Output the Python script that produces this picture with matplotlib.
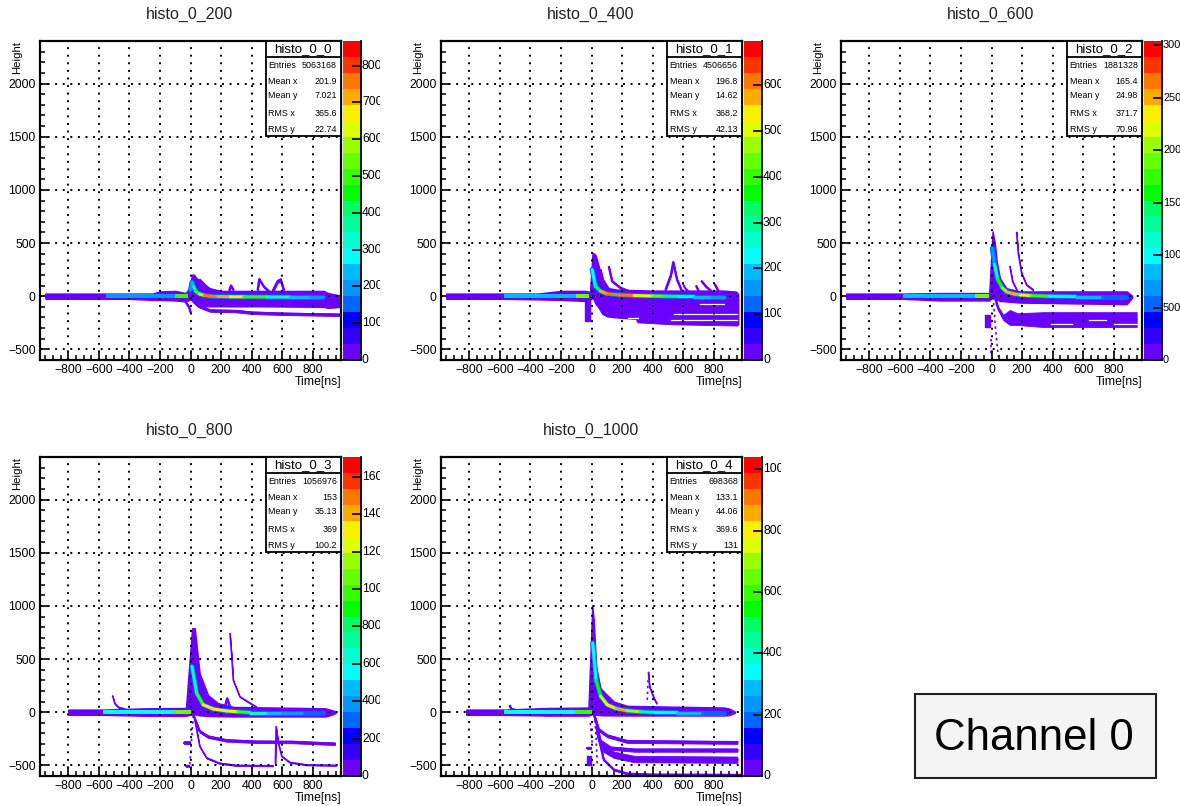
import numpy as np
import matplotlib
matplotlib.use("Agg")
import matplotlib.pyplot as plt
from matplotlib.collections import LineCollection
from matplotlib.colors import BoundaryNorm, ListedColormap
from matplotlib.patches import Rectangle
from matplotlib.ticker import MultipleLocator
from matplotlib.transforms import Bbox

plt.rcParams["font.family"] = ["Liberation Sans", "DejaVu Sans"]

W, H = 1180, 806
PURPLE = "#6a00ff"
PALETTE = ["#6a00ff", "#3300ff", "#0000ff", "#0066ff", "#0099ff", "#00bbff", "#00ffff",
           "#00ffcc", "#00ff99", "#00ff66", "#00ff00", "#33ff00", "#66ff00", "#99ff00",
           "#ddff00", "#ffee00", "#ffaa00", "#ff7700", "#ff3300", "#ff0000"]

TITLES = ["histo_0_200", "histo_0_400", "histo_0_600", "histo_0_800", "histo_0_1000"]
STAT_NAMES = ["histo_0_0", "histo_0_1", "histo_0_2", "histo_0_3", "histo_0_4"]
STAT_LABELS = ["Entries", "Mean x", "Mean y", "RMS x", "RMS y"]
STAT_VALUES = [["5063168", "201.9", "7.021", "365.6", "22.74"],
               ["4506656", "196.8", "14.62", "368.2", "42.13"],
               ["1881328", "165.4", "24.98", "371.7", "70.96"],
               ["1056976", "153", "35.13", "369", "100.2"],
               ["698368", "133.1", "44.06", "369.6", "131"]]
Z_MAX = [867, 697, 30400, 17060, 1040]
Z_TICKS = [[0, 100, 200, 300, 400, 500, 600, 700, 800],
           [0, 100, 200, 300, 400, 500, 600],
           [0, 5000, 10000, 15000, 20000, 25000, 30000],
           [0, 2000, 4000, 6000, 8000, 10000, 12000, 14000, 16000],
           [0, 200, 400, 600, 800, 1000]]
Z_LABELS = [["0", "100", "200", "300", "400", "500", "600", "700", "800"],
            ["0", "100", "200", "300", "400", "500", "600"],
            ["0", "500", "100", "150", "200", "250", "300"],
            ["0", "200", "400", "600", "800", "100", "120", "140", "160"],
            ["0", "200", "400", "600", "800", "100"]]

# Baseline before the pulse: segment edges and colour level
P1_BASE_T = [-950, -550, -100, -18]
P1_BASE_Z = [20, 190, 520]
P2_BASE_T = [-950, -570, -100, -15]
P2_BASE_Z = [20, 180, 430]
P3_BASE_T = [-950, -580, -110, -15]
P3_BASE_Z = [800, 8200, 18500]
P4_BASE_T = [-800, -570, -110, 0]
P4_BASE_Z = [600, 5400, 10800]
P5_BASE_T = [-820, -570, -110, 0]
P5_BASE_Z = [30, 360, 620]

# Purple envelope around the pulse
P1_ENV_T = [-950, -550, -400, -250, -200, -100, -30, 0, 8, 20, 40, 60, 100, 140, 200, 450, 870, 900, 985]
P1_ENV_UP = [25, 25, 25, 25, 45, 50, 30, 100, 200, 205, 170, 135, 90, 70, 50, 50, 50, 30, 5]
P1_ENV_LO = [-25, -25, -25, -35, -35, -40, -50, -30, -40, -60, -85, -90, -95, -95, -95, -95, -100, -110, -100]
P2_ENV_T = [-950, -570, -350, -200, -40, -10, 7, 26, 48, 70, 103, 168, 400, 870, 900, 945, 960]
P2_ENV_UP = [25, 25, 25, 50, 50, 40, 410, 390, 280, 125, 78, 62, 53, 53, 48, 44, 20]
P2_ENV_LO = [-25, -25, -30, -35, -45, -35, -10, -70, -110, -165, -190, -200, -225, -250, -255, -265, -265]
P3_ENV_T = [-950, -580, -340, -15, 7, 22, 33, 55, 98, 185, 885, 920]
P3_ENV_UP = [25, 25, 30, 30, 610, 500, 340, 170, 75, 45, 45, 5]
P3_ENV_LO = [-25, -25, -40, -40, -10, -20, -30, -45, -50, -60, -75, -15]
P4_ENV_T = [-800, -570, -285, -30, 10, 28, 60, 115, 180, 280, 880, 900, 950]
P4_ENV_UP = [25, 25, 37, 40, 790, 790, 365, 160, 85, 50, 37, 30, 8]
P4_ENV_LO = [-25, -25, -34, -34, -20, -20, -30, -35, -38, -40, -40, -35, -8]
P5_ENV_T = [-820, -570, -285, -20, 5, 15, 30, 59, 103, 146, 234, 868, 900, 938]
P5_ENV_UP = [25, 25, 40, 44, 1005, 865, 430, 225, 160, 100, 60, 44, 35, 6]
P5_ENV_LO = [-25, -25, -32, -32, -15, -20, -25, -28, -30, -30, -31, -31, -28, -6]

# Coloured ridge: t, height and colour level
P1_RIDGE_T = [0, 10, 20, 35, 60, 90, 130, 180, 260, 350, 500, 650, 780, 870]
P1_RIDGE_Y = [60, 130, 90, 45, 20, 8, 0, -3, -5, -6, -7, -8, -8, -8]
P1_RIDGE_Z = [150, 180, 250, 350, 500, 650, 740, 760, 700, 620, 480, 330, 260, 180]
P2_RIDGE_T = [4, 26, 59, 103, 180, 278, 400, 474, 570, 670, 780, 870]
P2_RIDGE_Y = [250, 94, 47, 22, 12, 6, 2, 0, -2, -3, -3, -3]
P2_RIDGE_Z = [130, 210, 340, 560, 600, 610, 520, 430, 320, 250, 200, 150]
P3_RIDGE_T = [5, 20, 40, 70, 100, 150, 190, 260, 380, 550, 720, 880]
P3_RIDGE_Y = [450, 300, 160, 80, 40, 20, 12, 5, 0, -3, -3, -3]
P3_RIDGE_Z = [4500, 6500, 11000, 16000, 20000, 24500, 25000, 22000, 17000, 10000, 8000, 5500]
P4_RIDGE_T = [10, 40, 83, 150, 235, 310, 390, 500, 600, 740, 870]
P4_RIDGE_Y = [430, 180, 70, 30, 12, 4, -3, -3, -3, -3, -3]
P4_RIDGE_Z = [3500, 6000, 10000, 13000, 13500, 12000, 9500, 6500, 5000, 4200, 3200]
P5_RIDGE_T = [8, 30, 60, 103, 160, 234, 320, 420, 560, 720, 870]
P5_RIDGE_Y = [650, 300, 150, 70, 35, 14, 4, -2, -3, -3, -3]
P5_RIDGE_Z = [180, 330, 560, 750, 800, 860, 700, 450, 330, 280, 200]

# Solid purple strips: (t, centre, half-thickness)
P1_STRIPS = [([15, 50, 100, 130, 300, 400, 600, 985], [-30, -90, -120, -135, -140, -155, -165, -175], 12),
             ([-30, -10, 0], [-60, -100, -150], 10),
             ([440, 450, 480, 510], [60, 160, 90, 50], 8),
             ([540, 570, 590, 610], [55, 140, 155, 60], 16),
             ([255, 265, 280], [60, 100, 60], 8),
             ([40, 60, 90, 125], [140, 150, 105, 60], 16)]
P2_STRIPS = [([59, 75, 110], [244, 150, 70], 12),
             ([114, 135, 190, 234], [275, 140, 78, 53], 8),
             ([485, 520, 535, 560, 588], [62, 200, 320, 155, 60], 10),
             ([595, 610, 630], [125, 80, 50], 6),
             ([686, 700], [94, 50], 8),
             ([721, 750, 780], [140, 90, 53], 8),
             ([808, 830], [110, 50], 7),
             ([300, 520, 955], [-232, -250, -262], 14),
             ([-25, -25], [-30, -235], 18)]
P3_STRIPS = [([22, 44, 77, 120, 170, 340, 950], [-10, -115, -200, -200, -215, -220, -220], [10, 15, 25, 70, 55, 70, 70]),
             ([-25, -25], [-175, -290], 15),
             ([120, 138, 165], [280, 138, 60], 6),
             ([164, 175, 197, 230, 273], [600, 405, 215, 105, 60], 6)]
P4_STRIPS = [([18, 60, 115, 235, 430, 670, 945], [-25, -180, -230, -265, -278, -280, -297], 12),
             ([28, 60, 105, 190, 300, 540], [-70, -320, -430, -480, -500, -503], 6),
             ([555, 560, 575, 597, 650, 760, 953], [-480, -135, -290, -415, -472, -495, -500], 5),
             ([258, 265, 280, 323, 390, 430], [740, 615, 300, 145, 85, 50], 4),
             ([225, 240, 258], [50, 130, 50], 8),
             ([-40, -5], [-285, -285], 12),
             ([-28, -12], [-505, -505], 8),
             ([-510, -495, -470, -430], [153, 80, 45, 30], 6)]
P5_STRIPS = [([15, 48, 103, 234, 955], [-20, -165, -222, -275, -284], 14),
             ([28, 59, 125, 278, 955], [-70, -275, -337, -356, -356], 16),
             ([37, 70, 146, 278, 955], [-197, -337, -400, -440, -447], 30),
             ([33, 80, 146, 234, 387, 985], [-150, -447, -540, -578, -587, -590], 7),
             ([372, 380, 409, 426], [375, 240, 131, 84], 6),
             ([-30, -5], [-340, -340], 10),
             ([-18, -18], [-415, -500], 14),
             ([-535, -525, -495], [60, 30, 20], 8)]

# Thin dashed traces: (t, height)
P1_TRACES = []
P2_TRACES = []
P3_TRACES = [([11, 25, 44], [-10, -280, -570]), ([-5, -5], [-400, -550])]
P4_TRACES = [([18, 5, -5], [-30, -300, -510])]
P5_TRACES = [([20, 30, 38], [-20, -250, -500]), ([365, 370], [115, 300]), ([-8, 5], [-100, -300])]

# White gaps inside the lower bands: (t, height)
P1_GAPS = []
P2_GAPS = [([710, 870], [-72, -72]), ([540, 955], [-165, -165]), ([240, 305], [-205, -205]), ([520, 955], [-225, -225])]
P3_GAPS = [([390, 530], [-258, -258]), ([640, 750], [-225, -225]), ([800, 950], [-258, -258])]
P4_GAPS = []
P5_GAPS = []

BASES = [(P1_BASE_T, P1_BASE_Z), (P2_BASE_T, P2_BASE_Z), (P3_BASE_T, P3_BASE_Z), (P4_BASE_T, P4_BASE_Z), (P5_BASE_T, P5_BASE_Z)]
ENVS = [(P1_ENV_T, P1_ENV_UP, P1_ENV_LO), (P2_ENV_T, P2_ENV_UP, P2_ENV_LO), (P3_ENV_T, P3_ENV_UP, P3_ENV_LO),
        (P4_ENV_T, P4_ENV_UP, P4_ENV_LO), (P5_ENV_T, P5_ENV_UP, P5_ENV_LO)]
RIDGES = [(P1_RIDGE_T, P1_RIDGE_Y, P1_RIDGE_Z), (P2_RIDGE_T, P2_RIDGE_Y, P2_RIDGE_Z), (P3_RIDGE_T, P3_RIDGE_Y, P3_RIDGE_Z),
          (P4_RIDGE_T, P4_RIDGE_Y, P4_RIDGE_Z), (P5_RIDGE_T, P5_RIDGE_Y, P5_RIDGE_Z)]
STRIPS = [P1_STRIPS, P2_STRIPS, P3_STRIPS, P4_STRIPS, P5_STRIPS]
TRACES = [P1_TRACES, P2_TRACES, P3_TRACES, P4_TRACES, P5_TRACES]
GAPS = [P1_GAPS, P2_GAPS, P3_GAPS, P4_GAPS, P5_GAPS]

LEFTS = [40, 441, 841, 40, 441]
TOPS = [41, 41, 41, 457, 457]
AX_W, AX_H = 301, 319

fig = plt.figure(figsize=(W / 100, H / 100), dpi=100)
cmap = ListedColormap(PALETTE)


def fx(x):
    return x / W


def fy(y):
    return 1 - y / H


for i in range(5):
    l, t = LEFTS[i], TOPS[i]
    r, b = l + AX_W, t + AX_H
    ax = fig.add_axes([fx(l), fy(b), AX_W / W, AX_H / H])
    ax.set_xlim(-985, 985)
    ax.set_ylim(-600, 2400)
    norm = BoundaryNorm(np.linspace(0, Z_MAX[i], 21), 20)

    env_t, env_up, env_lo = ENVS[i]
    ax.fill_between(env_t, env_lo, env_up, facecolor=PURPLE, edgecolor=PURPLE, lw=1.0, zorder=2)
    for st, sy, half in STRIPS[i]:
        sy = np.array(sy, float)
        half_arr = np.array(half, float)
        if st[0] == st[-1]:
            ax.fill_betweenx(sy, st[0] - half_arr, st[0] + half_arr, facecolor=PURPLE, edgecolor=PURPLE, lw=1.0, zorder=2)
        else:
            stroke = 1.1 if half_arr.max() <= 6 else 1.7
            ax.fill_between(st, sy - half_arr, sy + half_arr, facecolor=PURPLE, edgecolor=PURPLE, lw=0.6, zorder=2)
            ax.plot(st, sy, color=PURPLE, lw=stroke, zorder=2, solid_capstyle="round")
    for gt, gy in GAPS[i]:
        ax.plot(gt, gy, color="white", lw=0.9, zorder=2.2)
    for tt, ty in TRACES[i]:
        ax.plot(tt, ty, color=PURPLE, lw=1.2, ls=(0, (1.5, 2)), zorder=2)

    base_t, base_z = BASES[i]
    for k in range(len(base_z)):
        ax.fill_between(base_t[k:k + 2], [-20, -20], [16, 16], color=cmap(norm(base_z[k])), lw=0, zorder=3)

    rt, ry, rz = RIDGES[i]
    pts = np.column_stack([rt, ry])
    segs = np.stack([pts[:-1], pts[1:]], axis=1)
    ax.add_collection(LineCollection(segs, colors=PALETTE[3], linewidths=3.6, zorder=3, capstyle="round"))
    lc = LineCollection(segs, cmap=cmap, norm=norm, linewidths=2.2, zorder=3.1, capstyle="round")
    lc.set_array(np.array(rz[1:], float))
    ax.add_collection(lc)

    ax.set_xticks(range(-800, 801, 200))
    ax.set_xticklabels([f"\u2212{-v}" if v < 0 else str(v) for v in range(-800, 801, 200)])
    ax.set_yticks(range(-500, 2001, 500))
    ax.set_yticklabels([f"\u2212{-v}" if v < 0 else str(v) for v in range(-500, 2001, 500)])
    ax.xaxis.set_minor_locator(MultipleLocator(50))
    ax.yaxis.set_minor_locator(MultipleLocator(100))
    ax.tick_params(which="major", direction="in", length=6.5, width=1.2, labelsize=8.8, pad=3, top=False, right=False)
    ax.tick_params(which="minor", direction="in", length=3.4, width=1.1, top=False, right=False)
    ax.grid(True, which="major", color="black", lw=1.4, ls=(0, (1, 2.9)), zorder=5)
    ax.set_axisbelow(False)
    for sp in ax.spines.values():
        sp.set_linewidth(1.6)

    fig.text(fx(l + AX_W / 2 - 0.5), fy(t - 27), TITLES[i], ha="center", va="center", fontsize=11.5, color="#222222")
    fig.text(fx(r), fy(b + 22), "Time[ns]", ha="right", va="center", fontsize=8.8)
    fig.text(fx(l - 23), fy(t), "Height", rotation=90, ha="center", va="top", fontsize=8.2)

    # colour scale
    cax = fig.add_axes([fx(r + 2), fy(b), 18 / W, AX_H / H])
    edges = np.linspace(0, Z_MAX[i], 21)
    cax.pcolormesh([0, 1], edges, (edges[:-1] + edges[1:]).reshape(-1, 1) / 2, cmap=cmap, norm=norm)
    cax.set_xticks([])
    cax.yaxis.tick_right()
    cax.set_yticks(Z_TICKS[i])
    cax.set_yticklabels([])
    cax.tick_params(axis="y", direction="in", length=6.5, width=1.2)
    for name, sp in cax.spines.items():
        sp.set_visible(name in ("right", "bottom"))
        sp.set_linewidth(1.3)
    clip = Bbox([[0, 0], [min(r + 38.5, W), H]])
    z_size = 7.9 if r + 38.5 >= W else 8.8
    for v, lab in zip(Z_TICKS[i], Z_LABELS[i]):
        y_px = b - v / Z_MAX[i] * AX_H
        fig.text(fx(r + 21), fy(y_px), lab, ha="left", va="center", fontsize=z_size,
                 clip_on=True, clip_box=clip)

    # statistics box
    bx0, bx1, by1, hdr = r - 75.5, r, t + 95, t + 15.5
    fig.add_artist(Rectangle((fx(bx0), fy(by1)), 75.5 / W, 95 / H, transform=fig.transFigure,
                             facecolor="white", edgecolor="black", lw=1.3, zorder=6))
    fig.add_artist(plt.Line2D([fx(bx0), fx(bx1)], [fy(hdr), fy(hdr)], color="black", lw=1.3, zorder=7))
    fig.text(fx((bx0 + bx1) / 2), fy(t + 7.8), STAT_NAMES[i], ha="center", va="center", fontsize=9.5, zorder=8)
    for off, lab, val in zip([24, 40, 55, 73, 88], STAT_LABELS, STAT_VALUES[i]):
        fig.text(fx(bx0 + 3), fy(t + off), lab, ha="left", va="center", fontsize=6.4, zorder=8)
        fig.text(fx(bx1 - 4), fy(t + off), val, ha="right", va="center", fontsize=6.4, zorder=8)

fig.add_artist(Rectangle((fx(915), fy(778)), 241 / W, 84 / H, transform=fig.transFigure,
                         facecolor="#f4f4f4", edgecolor="#222222", lw=1.5))
fig.text(fx(1034), fy(739), "Channel 0", ha="center", va="center", fontsize=31.5, zorder=8)

fig.savefig("out.png", dpi=100)
